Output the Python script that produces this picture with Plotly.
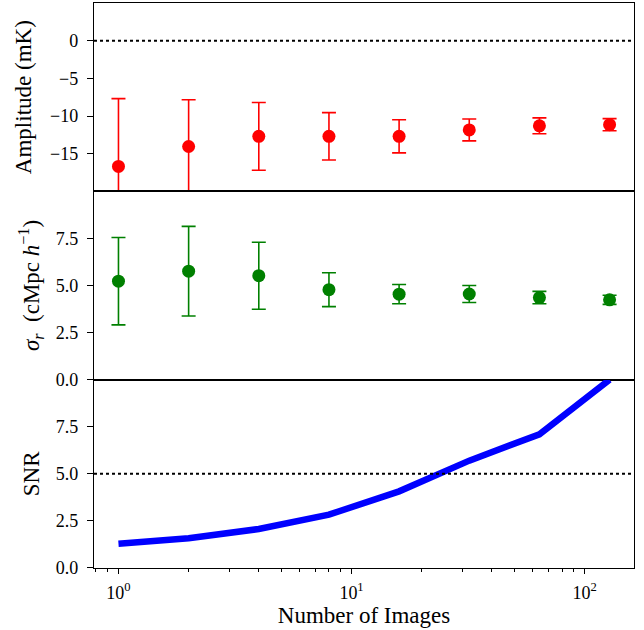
import plotly.graph_objects as go
from plotly.subplots import make_subplots

# ---- data ----
n_images = [1, 2, 4, 8, 16, 32, 64, 128]
amplitude = [-16.7, -14.05, -12.7, -12.7, -12.7, -11.85, -11.3, -11.15]
amplitude_err = [9.0, 6.2, 4.5, 3.15, 2.2, 1.45, 1.05, 0.8]
sigma_r = [5.23, 5.76, 5.52, 4.78, 4.54, 4.55, 4.36, 4.24]
sigma_r_err = [2.32, 2.38, 1.78, 0.9, 0.51, 0.45, 0.33, 0.24]
snr = [1.29, 1.58, 2.07, 2.83, 4.07, 5.70, 7.10, 10.0]
amp_ref = 0
snr_ref = 5

amp_ticks = [0, -5, -10, -15]
amp_ticktext = ["0", "\u22125", "\u221210", "\u221215"]
lin_ticks = [0, 2.5, 5.0, 7.5]
lin_ticktext = ["0.0", "2.5", "5.0", "7.5"]
x_ticks = [1, 10, 100]
x_ticktext = ["10<sup>0</sup>", "10<sup>1</sup>", "10<sup>2</sup>"]
x_minor = [0.8, 0.9, 2, 3, 4, 5, 6, 7, 8, 9, 20, 30, 40, 50, 60, 70, 80, 90, 200]

FONT = "Liberation Serif"
TITLE_SIZE = 23
TICK_SIZE = 18

fig = make_subplots(rows=3, cols=1, shared_xaxes=True, vertical_spacing=0)

fig.add_trace(go.Scatter(
    x=n_images, y=amplitude, mode="markers",
    marker=dict(color="#ff0000", size=13),
    error_y=dict(type="data", array=amplitude_err, color="#ff0000", thickness=1.6, width=7),
    showlegend=False), row=1, col=1)

fig.add_trace(go.Scatter(
    x=n_images, y=sigma_r, mode="markers",
    marker=dict(color="#008000", size=13),
    error_y=dict(type="data", array=sigma_r_err, color="#008000", thickness=1.6, width=7),
    showlegend=False), row=2, col=1)

fig.add_trace(go.Scatter(
    x=n_images, y=snr, mode="lines",
    line=dict(color="#0000ff", width=6.5),
    showlegend=False), row=3, col=1)

fig.add_hline(y=amp_ref, line=dict(color="black", width=2, dash="dot"), row=1, col=1)
fig.add_hline(y=snr_ref, line=dict(color="black", width=2, dash="dot"), row=3, col=1)

axis_common = dict(showline=True, linecolor="black", linewidth=1.4, mirror=True,
                   showgrid=False, zeroline=False, automargin=False)

for r in (1, 2, 3):
    fig.update_xaxes(type="log", range=[-0.105, 2.212], **axis_common, row=r, col=1)

fig.update_xaxes(ticks="", showticklabels=False, row=1, col=1)
fig.update_xaxes(ticks="", showticklabels=False, row=2, col=1)
fig.update_xaxes(ticks="outside", ticklen=5, tickwidth=1.2, tickcolor="black",
                 tickmode="array", tickvals=x_ticks, ticktext=x_ticktext,
                 ticklabelstandoff=3,
                 minor=dict(ticks="outside", ticklen=3, tickwidth=1, tickcolor="black",
                            tickmode="array", tickvals=x_minor, showgrid=False),
                 title=dict(text="Number of Images", standoff=4,
                            font=dict(family=FONT, size=TITLE_SIZE, color="black")),
                 row=3, col=1)

ytick = dict(ticks="outside", ticklen=6, tickwidth=1.2, tickcolor="black", tickmode="array",
             ticklabelstandoff=5)
fig.update_yaxes(range=[-20, 5], tickvals=amp_ticks, ticktext=amp_ticktext,
                 title=dict(text="Amplitude (mK)", standoff=11,
                            font=dict(family=FONT, size=TITLE_SIZE, color="black")),
                 **ytick, **axis_common, row=1, col=1)
fig.update_yaxes(range=[0, 10], tickvals=lin_ticks, ticktext=lin_ticktext,
                 title=dict(text="<i>\u03c3</i><sub><i>r</i></sub>  (cMpc <i>h</i><sup>\u22121</sup>)", standoff=9,
                            font=dict(family=FONT, size=TITLE_SIZE, color="black")),
                 **ytick, **axis_common, row=2, col=1)
fig.update_yaxes(range=[0, 10], tickvals=lin_ticks, ticktext=lin_ticktext,
                 title=dict(text="SNR", standoff=9,
                            font=dict(family=FONT, size=TITLE_SIZE, color="black")),
                 **ytick, **axis_common, row=3, col=1)

fig.update_layout(
    width=644, height=630,
    margin=dict(l=94, r=10, t=3, b=62),
    plot_bgcolor="white", paper_bgcolor="white",
    font=dict(family=FONT, size=TICK_SIZE, color="black"),
)

fig.write_html("out.html", config={"displayModeBar": False},
               post_script="document.body.style.margin='0';document.body.style.padding='0';")
